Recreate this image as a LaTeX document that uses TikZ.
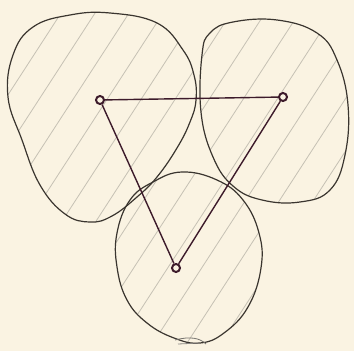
\documentclass[tikz,border=0pt]{standalone}
\usetikzlibrary{calc}
\definecolor{paper}{HTML}{FAF3E2}
\definecolor{ink}{HTML}{3A352F}
\definecolor{pen}{HTML}{3D1B2B}
\definecolor{pencil}{HTML}{C6C1B4}
\tikzset{
  blob/.style={draw=ink, line width=1.2pt},
  hatch/.style={draw=pencil, line width=0.8pt},
  vertex/.style={circle, draw=pen, line width=2pt, inner sep=0pt, minimum size=8pt, fill=paper},
  edge/.style={draw=pen, line width=1.4pt},
}
\begin{document}
\begin{tikzpicture}[x=1pt,y=-1pt]
\fill[paper] (0,0) rectangle (354,351);
\useasboundingbox (0,0) rectangle (354,351);
% shapes
\def\leftblob{plot[smooth cycle, tension=0.7] coordinates {(110,13) (157,23) (183,50) (194,75) (196,100) (190,122) (177,148) (157,177) (137,197) (112,216) (90,222) (65,214) (40,185) (22,140) (8,97) (13,55) (33,27) (70,15)}}
\def\rightblob{plot[smooth cycle, tension=0.7] coordinates {(233,22) (277,20) (317,33) (337,60) (348,105) (345,155) (330,190) (300,202) (262,200) (233,186) (213,157) (201,112) (202,55) (210,33)}}
\def\bottomblob{plot[smooth cycle, tension=0.7] coordinates {(182,172) (217,180) (243,200) (259,233) (261,268) (248,307) (224,333) (200,343) (174,338) (147,323) (127,300) (117,267) (117,233) (130,200) (153,182)}}
% hatching
\foreach \shape in {\leftblob,\rightblob,\bottomblob}{
  \begin{scope}
    \clip \shape;
    \foreach \k in {-300,-266,...,360}
      \draw[hatch] (\k,360) -- ++(240,-370);
  \end{scope}
}
\draw[blob] \leftblob;
\draw[blob] \rightblob;
\draw[blob] \bottomblob;
% pencil scribble at the bottom
\draw[hatch, draw=ink!70] (175,340) .. controls (190,336) and (200,338) .. (206,344);
\draw[hatch, draw=ink!60] (178,344) -- (200,343);
% graph
\node[vertex] (A) at (100,100) {};
\node[vertex] (B) at (283,97) {};
\node[vertex] (C) at (176,268) {};
\draw[edge] (A) -- (B);
\draw[edge] (A) -- (C);
\draw[edge] (C) -- (B);
\end{tikzpicture}
\end{document}
